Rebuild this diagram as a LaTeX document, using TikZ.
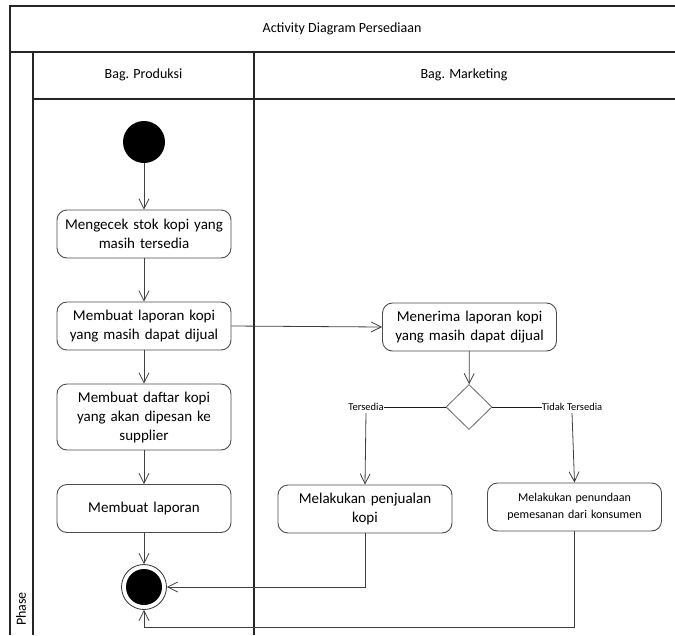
\documentclass[tikz,border=0pt]{standalone}
\usepackage{fontspec}
\setmainfont{Carlito}
\usetikzlibrary{arrows.meta,shapes.geometric}

\begin{document}
\begin{tikzpicture}[x=1pt,y=-1pt,
  lane/.style={draw=black!85, line width=1.4pt},
  act/.style={draw=black!70, line width=0.9pt, rounded corners=10pt, fill=white,
    align=center, minimum width=174pt, minimum height=48pt, text width=170pt,
    inner sep=1pt, font=\fontsize{15}{19}\selectfont},
  actsmall/.style={act, font=\fontsize{12}{17}\selectfont},
  flow/.style={draw=black!75, line width=0.8pt, -{Straight Barb[length=10pt,width=10pt]}},
  branch/.style={draw=black!90, line width=0.7pt},
  guard/.style={inner sep=0pt, font=\fontsize{10.5}{11}\selectfont},
  startnode/.style={circle, fill=black, minimum size=42pt, inner sep=0pt},
  endnode/.style={circle, draw=black!80, line width=0.8pt, fill=white,
    minimum size=45pt, inner sep=0pt,
    path picture={\fill[black] (path picture bounding box.center) circle (18pt);}},
  decide/.style={diamond, draw=black!60, line width=0.8pt, fill=white,
    minimum width=46pt, minimum height=45pt, inner sep=0pt},
  head/.style={font=\fontsize{14}{16}\selectfont}
]
\useasboundingbox (0,0) rectangle (675,635);

% swimlane frame
\draw[lane] (675,6) -- (10,6) -- (10,635);
\draw[lane] (10,52) -- (675,52);
\draw[lane] (33,99) -- (675,99);
\draw[lane] (33,52) -- (33,635);
\draw[lane] (254,52) -- (254,635);

\node[head] (title) at (342,29) {Activity Diagram Persediaan};
\node[head] (lanea) at (143.5,75) {Bag. Produksi};
\node[head] (laneb) at (464,75) {Bag. Marketing};
\node[head, rotate=90] (phase) at (21,609) {Phase};

% Bag. Produksi
\node[startnode] (start) at (144,142) {};
\node[act] (cek) at (144,234) {Mengecek stok kopi yang\\masih tersedia};
\node[act] (lap) at (144,326) {Membuat laporan kopi\\yang masih dapat dijual};
\node[act, minimum height=66pt] (daftar) at (144,417) {Membuat daftar kopi\\yang akan dipesan ke\\supplier};
\node[act] (lapor) at (144,508.5) {Membuat laporan};
\node[endnode] (end) at (144,587) {};

% Bag. Marketing
\node[act] (terima) at (469.5,327) {Menerima laporan kopi\\yang masih dapat dijual};
\node[decide] (dec) at (469,407) {};
\node[guard] (gya) at (366,407) {Tersedia};
\node[guard] (gtidak) at (572,407) {Tidak Tersedia};
\node[act] (jual) at (365,509) {Melakukan penjualan\\kopi};
\node[actsmall] (tunda) at (574.5,507) {Melakukan penundaan\\pemesanan dari konsumen};
\coordinate (loop) at (0,627);

% flows
\draw[flow] (start) -- (cek);
\draw[flow] (cek) -- (lap);
\draw[flow] (lap) -- (daftar);
\draw[flow] (daftar) -- (lapor);
\draw[flow] (lapor) -- (end);
\draw[flow] (lap.east) -- (terima.west);
\draw[flow] (terima) -- (dec);
\draw[branch] (dec.west) -- (gya.east);
\draw[branch] (dec.east) -- (gtidak.west);
\draw[flow] ([yshift=-6pt]gya.center) -- (jual.north);
\draw[flow] ([yshift=-6pt]gtidak.center) -- (tunda.north);
\draw[flow] (jual.south) |- (end.east);
\draw[flow] (tunda.south) -- (tunda.south |- loop) -| (end.south);
\end{tikzpicture}
\end{document}
